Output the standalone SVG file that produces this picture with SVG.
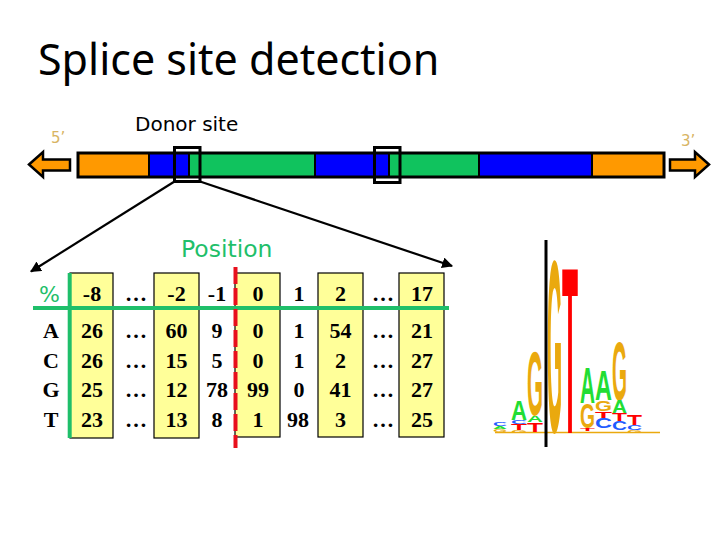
<svg xmlns="http://www.w3.org/2000/svg" width="720" height="540" viewBox="0 0 720 540">
<defs>
<style>
.title{font-family:"Noto Sans","DejaVu Sans",sans-serif;font-size:43px;fill:#000}
.lbl{font-family:"DejaVu Sans",Verdana,sans-serif;fill:#000}
.prime{font-family:"DejaVu Sans",sans-serif;font-size:15px;fill:#d8b463}
.grn{font-family:"DejaVu Sans",sans-serif;fill:#1fbf6a}
.tb{font-family:"Liberation Serif","Times New Roman",serif;font-weight:bold;font-size:22px;fill:#000;text-anchor:middle}
.ybox{fill:#ffff99;stroke:#000;stroke-width:1.2}
.seg{stroke:none}
.sep{stroke:#000;stroke-width:2}
.logo{font-family:"Liberation Sans",Arial,sans-serif;font-weight:bold;font-size:100px}
.lA{fill:#22dd33}.lC{fill:#1f5cff}.lG{fill:#eaa90e}.lT{fill:#ff0000}
.conn{stroke:#000;stroke-width:2.2;fill:none}
</style>
<marker id="ah" viewBox="0 0 10 10" refX="9" refY="5" markerWidth="5" markerHeight="5" orient="auto" markerUnits="strokeWidth">
<path d="M0,0 L10,5 L0,10 z" fill="#000"/>
</marker>
</defs>
<rect width="720" height="540" fill="#fff"/>

<g id="title"><text class="title" x="38" y="75">Splice site detection</text></g>

<g id="donor-label"><text class="lbl" x="135" y="131" font-size="20">Donor site</text></g>
<g id="five-prime"><text class="prime" x="51" y="143">5’</text></g>
<g id="three-prime"><text class="prime" x="681" y="146">3’</text></g>

<g id="arrow-left"><polygon points="29,164.5 43,152 43,159.5 70,159.5 70,170.5 43,170.5 43,177" fill="#ff9900" stroke="#000" stroke-width="2.5" stroke-linejoin="miter"/></g>
<g id="arrow-right"><polygon points="709,164.5 695,152 695,159.5 670,159.5 670,170.5 695,170.5 695,177" fill="#ff9900" stroke="#000" stroke-width="2.5"/></g>

<g id="gene-bar">
<rect class="seg" x="78" y="153" width="71" height="24" fill="#ff9900"/>
<rect class="seg" x="149" y="153" width="40" height="24" fill="#0000ff"/>
<rect class="seg" x="189" y="153" width="126" height="24" fill="#10c35e"/>
<rect class="seg" x="315" y="153" width="74" height="24" fill="#0000ff"/>
<rect class="seg" x="389" y="153" width="90" height="24" fill="#10c35e"/>
<rect class="seg" x="479" y="153" width="113" height="24" fill="#0000ff"/>
<rect class="seg" x="592" y="153" width="72" height="24" fill="#ff9900"/>
<line class="sep" x1="149" y1="153" x2="149" y2="177"/>
<line class="sep" x1="189" y1="153" x2="189" y2="177"/>
<line class="sep" x1="315" y1="153" x2="315" y2="177"/>
<line class="sep" x1="389" y1="153" x2="389" y2="177"/>
<line class="sep" x1="479" y1="153" x2="479" y2="177"/>
<line class="sep" x1="592" y1="153" x2="592" y2="177"/>
<rect x="78" y="153" width="586" height="24" fill="none" stroke="#000" stroke-width="3"/>
</g>

<g id="donor-box-1"><rect x="174.5" y="147.5" width="25.5" height="34" fill="none" stroke="#000" stroke-width="3"/></g>
<g id="donor-box-2"><rect x="374.5" y="147.5" width="25.5" height="35" fill="none" stroke="#000" stroke-width="3"/></g>

<g id="connectors">
<line class="conn" x1="174.5" y1="181.5" x2="31" y2="271.5" marker-end="url(#ah)"/>
<line class="conn" x1="200" y1="181.5" x2="452" y2="266" marker-end="url(#ah)"/>
</g>

<g id="position-label"><text class="grn" x="181" y="257" font-size="23.5">Position</text></g>
<g id="percent-label"><text class="grn" x="39" y="302" font-size="22">%</text></g>

<g id="table">
<rect class="ybox" x="70" y="273" width="43" height="165"/>
<rect class="ybox" x="154" y="273" width="45" height="165"/>
<rect class="ybox" x="235" y="273" width="45" height="164"/>
<rect class="ybox" x="318" y="273" width="45" height="164"/>
<rect class="ybox" x="399" y="273" width="45" height="164"/>
<line x1="69.7" y1="273" x2="69.7" y2="438" stroke="#1fbf6a" stroke-width="4"/>
<line x1="33" y1="308" x2="449" y2="308" stroke="#1fbf6a" stroke-width="4"/>
<line x1="235.5" y1="267" x2="235.5" y2="448" stroke="#e8101c" stroke-width="4" stroke-dasharray="17 4"/>

<text class="tb" x="92" y="301">-8</text>
<text class="tb" x="136" y="301">…</text>
<text class="tb" x="176.5" y="301">-2</text>
<text class="tb" x="217" y="301">-1</text>
<text class="tb" x="258" y="301">0</text>
<text class="tb" x="299" y="301">1</text>
<text class="tb" x="340.5" y="301">2</text>
<text class="tb" x="383" y="301">…</text>
<text class="tb" x="422" y="301">17</text>

<text class="tb" x="51" y="338">A</text>
<text class="tb" x="92" y="338">26</text>
<text class="tb" x="136" y="338">…</text>
<text class="tb" x="176.5" y="338">60</text>
<text class="tb" x="217" y="338">9</text>
<text class="tb" x="258" y="338">0</text>
<text class="tb" x="299" y="338">1</text>
<text class="tb" x="340.5" y="338">54</text>
<text class="tb" x="383" y="338">…</text>
<text class="tb" x="422" y="338">21</text>

<text class="tb" x="51" y="368">C</text>
<text class="tb" x="92" y="368">26</text>
<text class="tb" x="136" y="368">…</text>
<text class="tb" x="176.5" y="368">15</text>
<text class="tb" x="217" y="368">5</text>
<text class="tb" x="258" y="368">0</text>
<text class="tb" x="299" y="368">1</text>
<text class="tb" x="340.5" y="368">2</text>
<text class="tb" x="383" y="368">…</text>
<text class="tb" x="422" y="368">27</text>

<text class="tb" x="51" y="397">G</text>
<text class="tb" x="92" y="397">25</text>
<text class="tb" x="136" y="397">…</text>
<text class="tb" x="176.5" y="397">12</text>
<text class="tb" x="217" y="397">78</text>
<text class="tb" x="258" y="397">99</text>
<text class="tb" x="299" y="397">0</text>
<text class="tb" x="340.5" y="397">41</text>
<text class="tb" x="383" y="397">…</text>
<text class="tb" x="422" y="397">27</text>

<text class="tb" x="51" y="427">T</text>
<text class="tb" x="92" y="427">23</text>
<text class="tb" x="136" y="427">…</text>
<text class="tb" x="176.5" y="427">13</text>
<text class="tb" x="217" y="427">8</text>
<text class="tb" x="258" y="427">1</text>
<text class="tb" x="298" y="427">98</text>
<text class="tb" x="340.5" y="427">3</text>
<text class="tb" x="383" y="427">…</text>
<text class="tb" x="422" y="427">25</text>
</g>

<g id="sequence-logo">
<line x1="495" y1="432.5" x2="660" y2="432.5" stroke="#eaa90e" stroke-width="1.5"/>
<!-- col1 -->
<text class="logo lC" transform="matrix(0.194 0 0 0.056 493 426)">C</text>
<text class="logo lA" transform="matrix(0.194 0 0 0.042 493 429)">A</text>
<text class="logo lG" transform="matrix(0.18 0 0 0.042 493 432)">G</text>
<!-- col2 -->
<text class="logo lA" transform="matrix(0.222 0 0 0.279 511 420)">A</text>
<text class="logo lC" transform="matrix(0.222 0 0 0.056 511 424)">C</text>
<text class="logo lT" transform="matrix(0.262 0 0 0.084 511 430)">T</text>
<text class="logo lG" transform="matrix(0.206 0 0 0.035 511 432.5)">G</text>
<!-- col3 -->
<text class="logo lG" transform="matrix(0.206 0 0 0.908 527 415)">G</text>
<text class="logo lA" transform="matrix(0.222 0 0 0.098 527 422)">A</text>
<text class="logo lT" transform="matrix(0.262 0 0 0.126 527 432)">T</text>
<!-- col4 -->
<text class="logo lG" transform="matrix(0.193 0 0 2.45 547 432)">G</text>
<!-- col5 -->
<text class="logo lT" transform="matrix(0.262 0 0 2.374 562 433)">T</text>
<!-- col6 -->
<text class="logo lA" transform="matrix(0.208 0 0 0.503 580 403)">A</text>
<text class="logo lG" transform="matrix(0.193 0 0 0.349 580 428)">G</text>
<text class="logo lT" transform="matrix(0.245 0 0 0.042 580 431)">T</text>
<!-- col7 -->
<text class="logo lA" transform="matrix(0.235 0 0 0.419 595 400)">A</text>
<text class="logo lG" transform="matrix(0.219 0 0 0.154 595 411)">G</text>
<text class="logo lT" transform="matrix(0.278 0 0 0.098 595 418)">T</text>
<text class="logo lC" transform="matrix(0.235 0 0 0.14 595 428)">C</text>
<!-- col8 -->
<text class="logo lG" transform="matrix(0.193 0 0 0.838 612 400)">G</text>
<text class="logo lA" transform="matrix(0.208 0 0 0.182 612 413)">A</text>
<text class="logo lT" transform="matrix(0.245 0 0 0.112 612 421)">T</text>
<text class="logo lC" transform="matrix(0.208 0 0 0.126 612 430)">C</text>
<!-- col9 -->
<text class="logo lT" transform="matrix(0.245 0 0 0.14 627 425)">T</text>
<text class="logo lC" transform="matrix(0.208 0 0 0.07 627 430)">C</text>
<text class="logo lG" transform="matrix(0.193 0 0 0.03 627 432.5)">G</text>
<line x1="546" y1="240" x2="546" y2="447" stroke="#000" stroke-width="3"/>
</g>
</svg>
